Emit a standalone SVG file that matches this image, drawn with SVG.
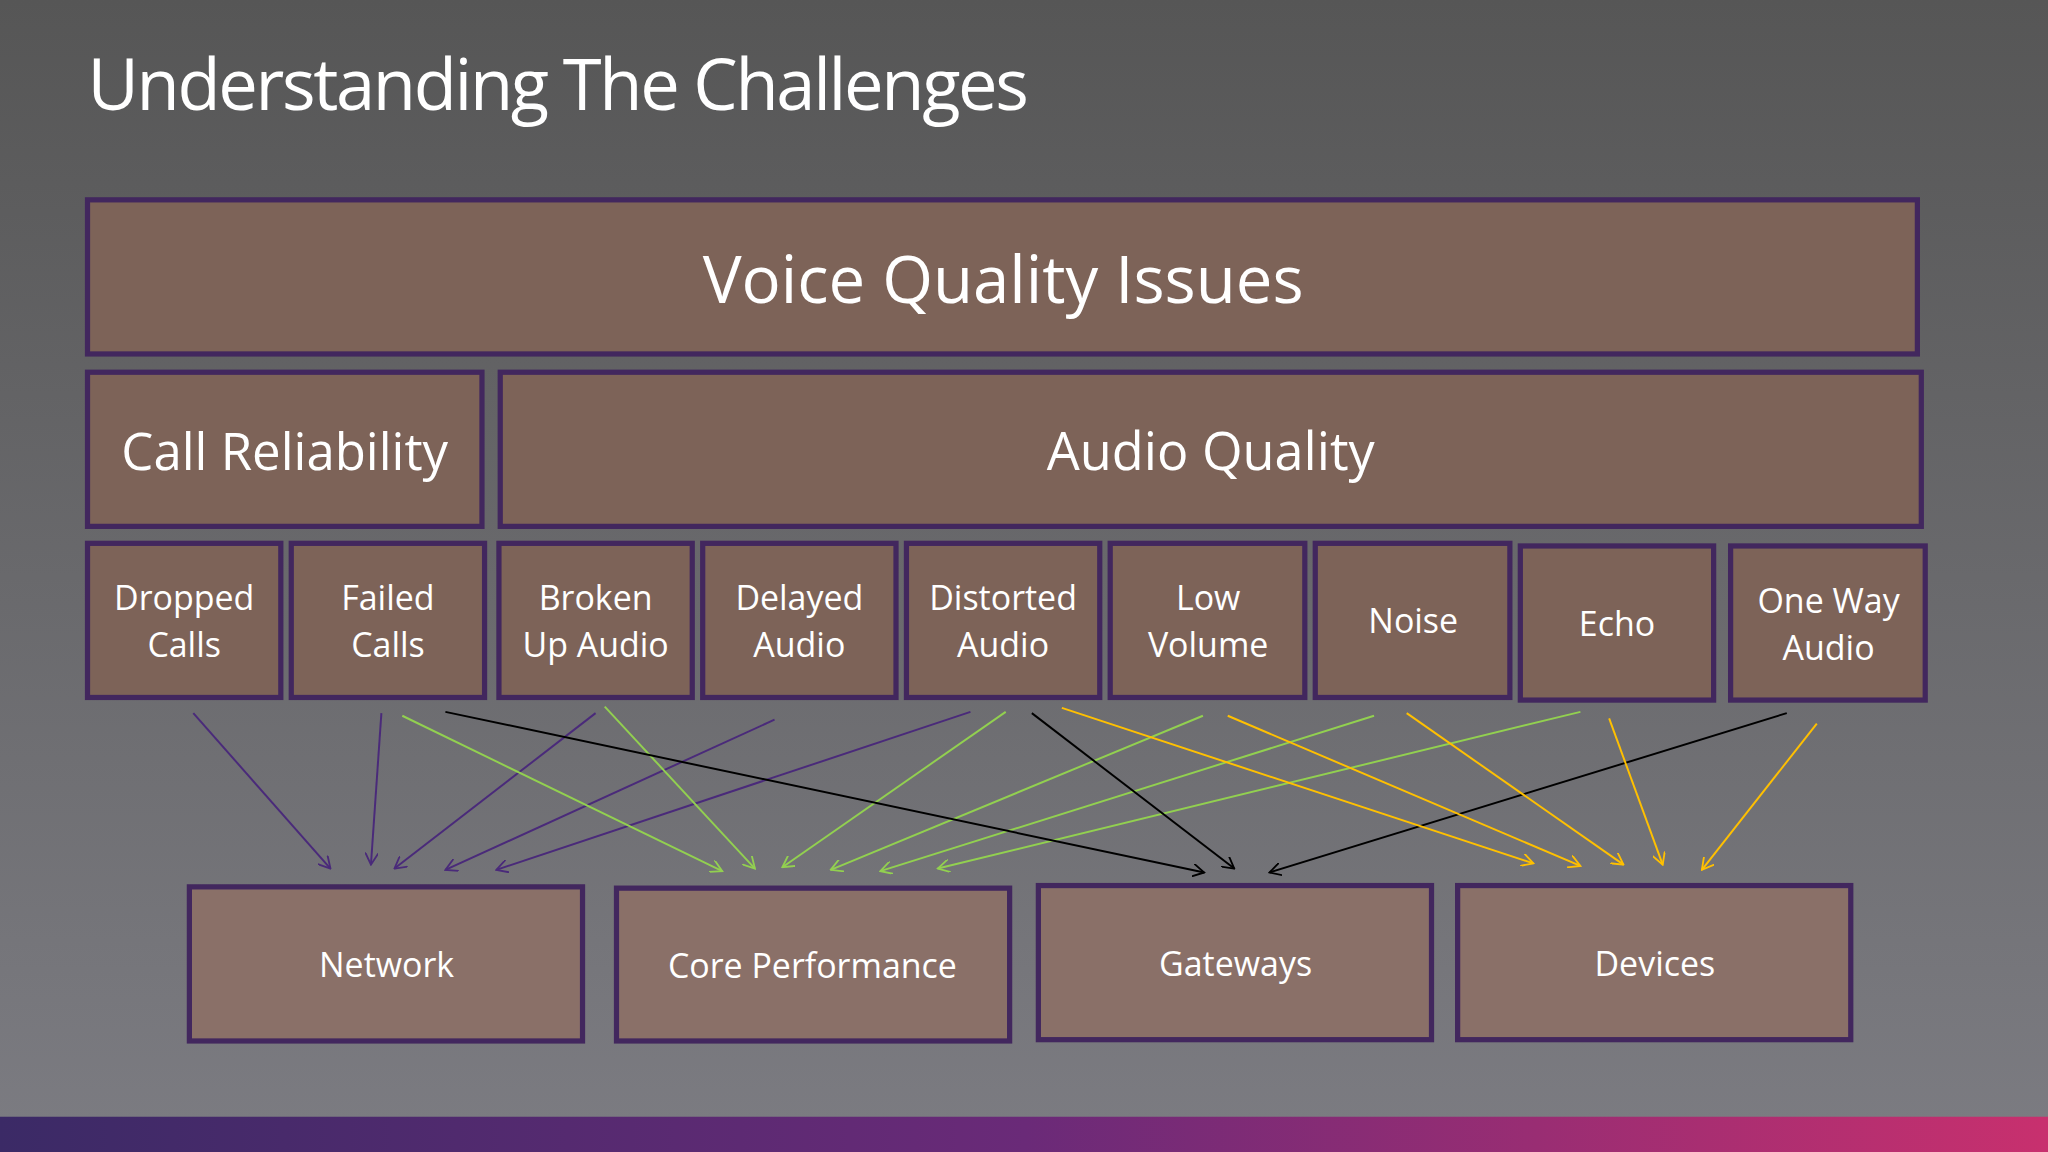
<svg xmlns="http://www.w3.org/2000/svg" width="2048" height="1152" viewBox="0 0 2048 1152">
<defs>
<linearGradient id="bg" x1="0" y1="0" x2="0" y2="1"><stop offset="0" stop-color="#565656"/><stop offset="1" stop-color="#7c7c82"/></linearGradient>
<linearGradient id="band" x1="0" y1="0" x2="1" y2="0"><stop offset="0" stop-color="#3b2a66"/><stop offset="0.5" stop-color="#6a2a78"/><stop offset="1" stop-color="#c8306e"/></linearGradient>
<marker id="mp" viewBox="0 0 10 10" refX="9" refY="5" markerWidth="10" markerHeight="10" orient="auto" markerUnits="userSpaceOnUse"><path d="M0,0 L9,5 L0,10" fill="none" stroke="#4a2a7a" stroke-width="1.4"/></marker>
<marker id="mg" viewBox="0 0 10 10" refX="9" refY="5" markerWidth="10" markerHeight="10" orient="auto" markerUnits="userSpaceOnUse"><path d="M0,0 L9,5 L0,10" fill="none" stroke="#92d050" stroke-width="1.4"/></marker>
<marker id="mk" viewBox="0 0 10 10" refX="9" refY="5" markerWidth="10" markerHeight="10" orient="auto" markerUnits="userSpaceOnUse"><path d="M0,0 L9,5 L0,10" fill="none" stroke="#000" stroke-width="1.4"/></marker>
<marker id="my" viewBox="0 0 10 10" refX="9" refY="5" markerWidth="10" markerHeight="10" orient="auto" markerUnits="userSpaceOnUse"><path d="M0,0 L9,5 L0,10" fill="none" stroke="#ffc000" stroke-width="1.4"/></marker>
</defs>
<style>
.b{fill:#7d6358;stroke:#42275e;stroke-width:4}
.c{fill:#8a7068;stroke:#42275e;stroke-width:4}
text{font-family:"Open Sans","Noto Sans",sans-serif;fill:#fff;text-anchor:middle}
.s{font-size:26px}
.p line{stroke:#4a2a7a;stroke-width:1.5;marker-end:url(#mp)}
.g line{stroke:#92d050;stroke-width:1.5;marker-end:url(#mg)}
.k line{stroke:#000;stroke-width:1.5;marker-end:url(#mk)}
.y line{stroke:#ffc000;stroke-width:1.5;marker-end:url(#my)}
</style>
<rect width="2048" height="1152" fill="url(#bg)"/>
<g transform="scale(1.30612)">
<rect x="0" y="855" width="1568" height="27" fill="url(#band)"/>
<text x="67" y="84" font-size="54" style="text-anchor:start" letter-spacing="-1.8">Understanding The Challenges</text>
<g id="voice"><rect class="b" x="67" y="153" width="1401" height="118"/><text x="768" y="232" font-size="50">Voice Quality Issues</text></g>
<g id="reliability"><rect class="b" x="67" y="285" width="302" height="118"/><text x="218" y="360" font-size="39">Call Reliability</text></g>
<g id="audio"><rect class="b" x="383" y="285" width="1088" height="118"/><text x="927" y="360" font-size="40">Audio Quality</text></g>
<g id="dropped"><rect class="b" x="67" y="416" width="148" height="118"/><text class="s" x="141" y="467">Dropped</text><text class="s" x="141" y="503">Calls</text></g>
<g id="failed"><rect class="b" x="223" y="416" width="148" height="118"/><text class="s" x="297" y="467">Failed</text><text class="s" x="297" y="503">Calls</text></g>
<g id="broken"><rect class="b" x="382" y="416" width="148" height="118"/><text class="s" x="456" y="467">Broken</text><text class="s" x="456" y="503">Up Audio</text></g>
<g id="delayed"><rect class="b" x="538" y="416" width="148" height="118"/><text class="s" x="612" y="467">Delayed</text><text class="s" x="612" y="503">Audio</text></g>
<g id="distorted"><rect class="b" x="694" y="416" width="148" height="118"/><text class="s" x="768" y="467">Distorted</text><text class="s" x="768" y="503">Audio</text></g>
<g id="low"><rect class="b" x="850" y="416" width="149" height="118"/><text class="s" x="925" y="467">Low</text><text class="s" x="925" y="503">Volume</text></g>
<g id="noise"><rect class="b" x="1007" y="416" width="149" height="118"/><text class="s" x="1082" y="485">Noise</text></g>
<g id="echo"><rect class="b" x="1164" y="418" width="148" height="118"/><text class="s" x="1238" y="487">Echo</text></g>
<g id="oneway"><rect class="b" x="1325" y="418" width="149" height="118"/><text class="s" x="1400" y="469">One Way</text><text class="s" x="1400" y="505">Audio</text></g>
<g id="network"><rect class="c" x="145" y="679" width="301" height="118"/><text class="s" x="296" y="748">Network</text></g>
<g id="core"><rect class="c" x="472" y="680" width="301" height="117"/><text class="s" x="622" y="749">Core Performance</text></g>
<g id="gateways"><rect class="c" x="795" y="678" width="301" height="118"/><text class="s" x="946" y="747">Gateways</text></g>
<g id="devices"><rect class="c" x="1116" y="678" width="301" height="118"/><text class="s" x="1267" y="747">Devices</text></g>
<g id="connectors">
<g class="p">
<line x1="148" y1="546" x2="253" y2="665"/><line x1="292" y1="546" x2="284" y2="662"/><line x1="456" y1="546" x2="302" y2="665"/><line x1="593" y1="551" x2="341" y2="666"/><line x1="743" y1="545" x2="380" y2="666"/>
</g>
<g class="g">
<line x1="308" y1="548" x2="553" y2="667"/><line x1="463" y1="541" x2="578" y2="665"/><line x1="770" y1="545" x2="599" y2="664"/><line x1="921" y1="548" x2="636" y2="666"/><line x1="1052" y1="548" x2="674" y2="667"/><line x1="1210" y1="545" x2="718" y2="665"/>
</g>
<g class="k">
<line x1="341" y1="545" x2="922" y2="668"/><line x1="790" y1="546" x2="945" y2="665"/><line x1="1368" y1="546" x2="972" y2="668"/>
</g>
<g class="y">
<line x1="813" y1="542" x2="1174" y2="661"/><line x1="940" y1="548" x2="1210" y2="663"/><line x1="1077" y1="546" x2="1243" y2="662"/><line x1="1232" y1="550" x2="1273" y2="662"/><line x1="1391" y1="554" x2="1303" y2="666"/>
</g>
</g>
</g>
</svg>
